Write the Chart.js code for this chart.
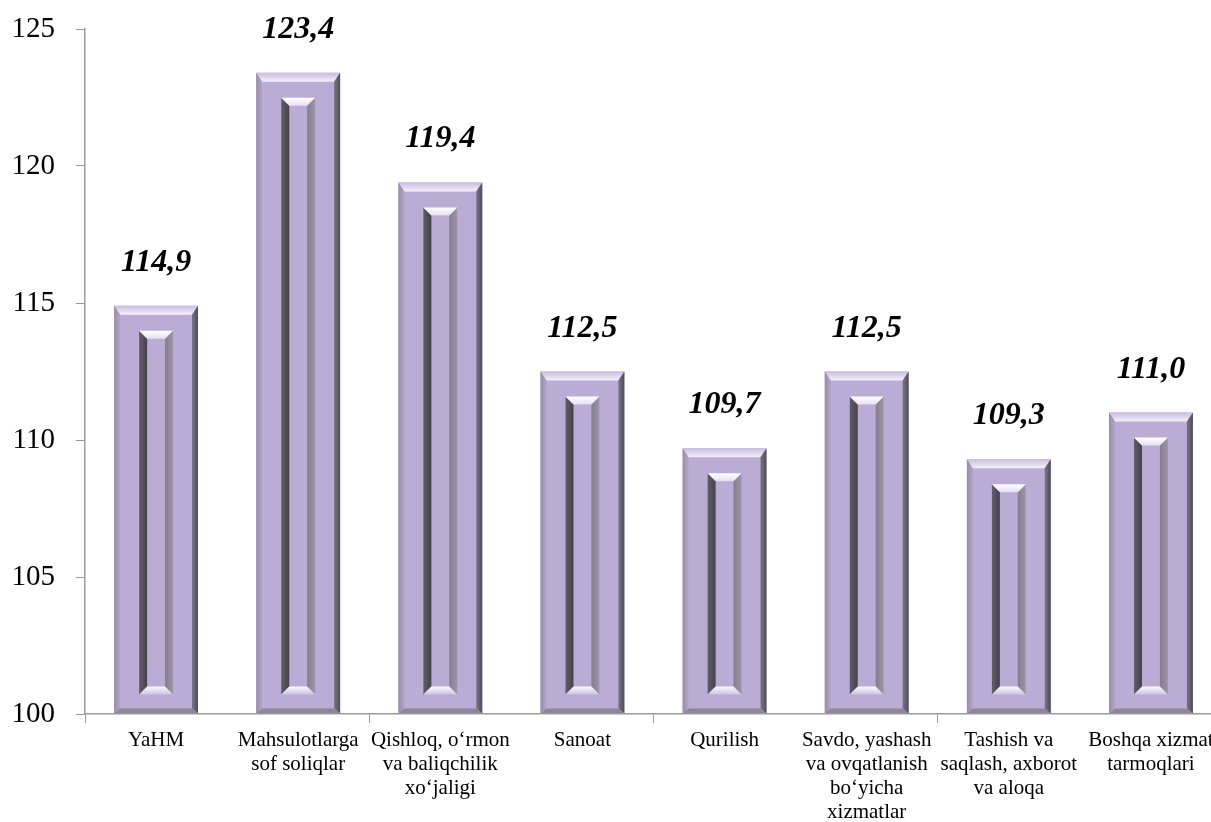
<!DOCTYPE html>
<html>
<head>
<meta charset="utf-8">
<script src="https://cdn.jsdelivr.net/npm/chart.js@4"></script>
<style>
  html, body { margin: 0; padding: 0; background: #fff; overflow: hidden; }
  #wrap { width: 1222px; height: 822px; }
</style>
</head>
<body>
<div id="wrap"><canvas id="chart" width="1222" height="822"></canvas></div>
<script>
'use strict';

// Categories, values and axis ticks
const categories = [
    'YaHM',
    ['Mahsulotlarga', 'sof soliqlar'],
    ['Qishloq, o‘rmon', 'va baliqchilik', 'xo‘jaligi'],
    'Sanoat',
    'Qurilish',
    ['Savdo, yashash', 'va ovqatlanish', 'bo‘yicha', 'xizmatlar'],
    ['Tashish va', 'saqlash, axborot', 'va aloqa'],
    ['Boshqa xizmat', 'tarmoqlari'],
];
const values = [114.9, 123.4, 119.4, 112.5, 109.7, 112.5, 109.3, 111.0];
const yTicks = [100, 105, 110, 115, 120, 125];

const FACE = '#bbacd6';
const AXIS = '#9a9a9a';
const SERIF = "'Liberation Serif', 'Times New Roman', serif";

function poly(ctx, pts, fill) {
    ctx.beginPath();
    ctx.moveTo(pts[0][0], pts[0][1]);
    for (let i = 1; i < pts.length; i++) ctx.lineTo(pts[i][0], pts[i][1]);
    ctx.closePath();
    ctx.fillStyle = fill;
    ctx.fill();
}

function vGrad(ctx, y0, y1, c0, c1) {
    const g = ctx.createLinearGradient(0, y0, 0, y1);
    g.addColorStop(0, c0);
    g.addColorStop(1, c1);
    return g;
}

function hGrad(ctx, x0, x1, c0, c1) {
    const g = ctx.createLinearGradient(x0, 0, x1, 0);
    g.addColorStop(0, c0);
    g.addColorStop(1, c1);
    return g;
}

// Bevelled frame look of the bars, painted over each bar element
const bevelPlugin = {
    id: 'bevel',
    afterDatasetsDraw(chart) {
        const ctx = chart.ctx;
        chart.getDatasetMeta(0).data.forEach(el => {
            const x0 = el.x - el.width / 2, x1 = el.x + el.width / 2;
            const top = el.y, bot = Math.min(el.base, chart.chartArea.bottom);
            const b = 6, bt = 9, bb = 5;
            ctx.save();
            // outer bevel
            poly(ctx, [[x0, top], [x1, top], [x1 - b, top + bt], [x0 + b, top + bt]],
                vGrad(ctx, top, top + bt, '#c9bde0', '#f4f0fa'));
            poly(ctx, [[x0, top], [x0 + b, top + bt], [x0 + b, bot - bb], [x0, bot]],
                hGrad(ctx, x0, x0 + b, '#978da9', '#b2a6c8'));
            poly(ctx, [[x1, top], [x1, bot], [x1 - b, bot - bb], [x1 - b, top + bt]],
                hGrad(ctx, x1 - b, x1, '#7b7485', '#4f4b57'));
            poly(ctx, [[x0, bot], [x1, bot], [x1 - b, bot - bb], [x0 + b, bot - bb]], '#8e859c');
            // inner recessed channel
            const ox0 = x0 + 25, ox1 = x1 - 25, oy0 = top + 25, oy1 = bot - 19, w = 8;
            poly(ctx, [[ox0, oy0], [ox0 + w, oy0 + w], [ox0 + w, oy1 - w], [ox0, oy1]],
                hGrad(ctx, ox0, ox0 + w, '#625d6a', '#45414b'));
            poly(ctx, [[ox1, oy0], [ox1, oy1], [ox1 - w, oy1 - w], [ox1 - w, oy0 + w]],
                hGrad(ctx, ox1 - w, ox1, '#857e90', '#9c94a8'));
            poly(ctx, [[ox0, oy0], [ox1, oy0], [ox1 - w, oy0 + w], [ox0 + w, oy0 + w]],
                vGrad(ctx, oy0, oy0 + w, '#ffffff', '#e6def2'));
            poly(ctx, [[ox0, oy1], [ox1, oy1], [ox1 - w, oy1 - w], [ox0 + w, oy1 - w]],
                vGrad(ctx, oy1 - w, oy1, '#fbf9fe', '#cfc3e4'));
            ctx.restore();
        });
    }
};

// Value labels above the bars, decimal comma
const valueLabels = {
    id: 'valueLabels',
    afterDatasetsDraw(chart) {
        const ctx = chart.ctx;
        ctx.save();
        ctx.font = `bold italic 32px ${SERIF}`;
        ctx.fillStyle = '#000';
        ctx.textAlign = 'center';
        ctx.textBaseline = 'alphabetic';
        chart.getDatasetMeta(0).data.forEach((el, i) => {
            ctx.fillText(values[i].toFixed(1).replace('.', ','), el.x, el.y - 35);
        });
        ctx.restore();
    }
};

new Chart(document.getElementById('chart'), {
    type: 'bar',
    data: {
        labels: categories,
        datasets: [{
            data: values,
            base: yTicks[0],
            backgroundColor: FACE,
            borderWidth: 0,
            barPercentage: 0.59,
            categoryPercentage: 1,
        }],
    },
    options: {
        responsive: false,
        animation: false,
        devicePixelRatio: 1,
        layout: { padding: { top: 29, right: 0, left: 0, bottom: 0 } },
        plugins: { legend: { display: false }, tooltip: { enabled: false } },
        scales: {
            x: {
                offset: true,
                afterFit: s => { s.height = 108; s.paddingLeft = 0; s.paddingRight = 0; },
                grid: {
                    offset: true,
                    drawOnChartArea: false,
                    tickLength: 9,
                    color: c => (c.index % 2 === 0 ? AXIS : 'rgba(0,0,0,0)'),
                },
                border: { color: AXIS, width: 1.5 },
                ticks: {
                    autoSkip: false, maxRotation: 0, padding: 6,
                    color: '#000',
                    font: { family: SERIF, size: 21, lineHeight: 1.14 },
                },
            },
            y: {
                min: yTicks[0], max: yTicks[yTicks.length - 1],
                afterFit: s => { s.width = 85; s.paddingTop = 0; s.paddingBottom = 0; },
                afterBuildTicks: s => { s.ticks = yTicks.map(v => ({ value: v })); },
                grid: { drawOnChartArea: false, tickLength: 9, color: AXIS },
                border: { color: AXIS, width: 1.5 },
                ticks: {
                    padding: 21, color: '#000',
                    font: { family: SERIF, size: 29 },
                },
            },
        },
    },
    plugins: [bevelPlugin, valueLabels],
});
</script>
</body>
</html>
